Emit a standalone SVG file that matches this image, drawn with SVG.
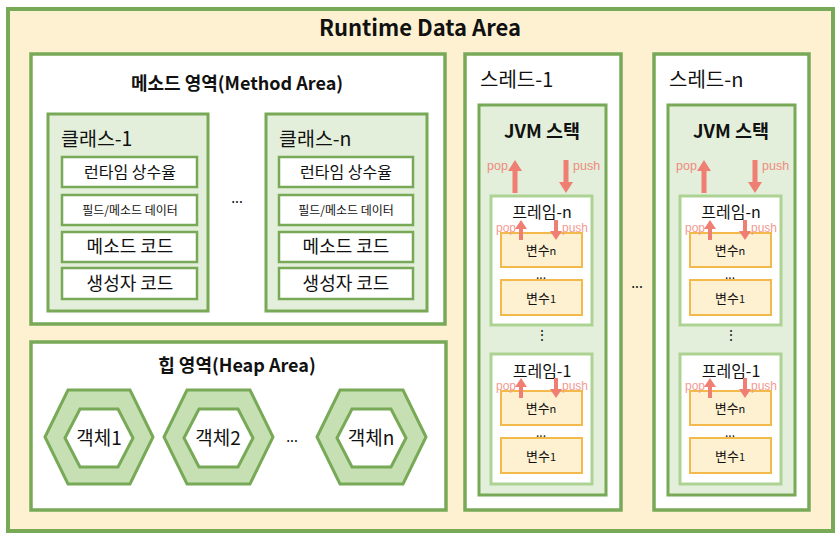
<svg xmlns="http://www.w3.org/2000/svg" width="840" height="540" viewBox="0 0 840 540">
<defs>
<style>
text{font-family:"Noto Sans CJK KR","Liberation Sans",sans-serif;fill:#111;}
.b{font-weight:bold;}
.m{text-anchor:middle;}
.outer{fill:#fdf1d1;stroke:#77a957;stroke-width:4;}
.area{fill:#fff;stroke:#77a957;stroke-width:3.5;}
.cls{fill:#e3efda;stroke:#77a957;stroke-width:3;}
.item{fill:#fff;stroke:#77a957;stroke-width:2.5;}
.hexo{fill:#c6e0b4;stroke:#77a957;stroke-width:3;}
.hexi{fill:#fff;stroke:#77a957;stroke-width:3;}
.frame{fill:#fff;stroke:#add394;stroke-width:3;}
.var{fill:#fdf1d1;stroke:#f3b94a;stroke-width:2;}
.arr{fill:#ef7f72;}
.lbl{fill:#ef8a80;font-size:12.5px;font-family:"Liberation Sans",sans-serif;}
.lbl2{fill:#f29b92;font-size:12px;font-family:"Liberation Sans",sans-serif;}
</style>
<polygon id="bigUp" points="0,0 7,11 2.5,11 2.5,33 -2.5,33 -2.5,11 -7,11"/>
<polygon id="bigDown" points="0,0 7,-11 2.5,-11 2.5,-33 -2.5,-33 -2.5,-11 -7,-11"/>
<polygon id="smUp" points="0,0 6,9 2,9 2,20 -2,20 -2,9 -6,9"/>
<polygon id="smDown" points="0,0 6,-9 2,-9 2,-20 -2,-20 -2,-9 -6,-9"/>
</defs>

<g id="runtime-data-area">
<rect class="outer" x="8" y="9" width="825" height="522"/>
<text class="b m" x="420" y="36" font-size="22">Runtime Data Area</text>
</g>

<g id="method-area">
<rect class="area" x="31" y="54" width="414" height="270"/>
<text class="b m" x="237" y="90" font-size="18">메소드 영역(Method Area)</text>
<text class="m" x="237" y="203" font-size="14">...</text>
</g>

<g id="class-1">
<rect class="cls" x="48" y="114" width="160" height="197"/>
<text x="61" y="146" font-size="19.5">클래스-1</text>
<rect class="item" x="62" y="157" width="135" height="30"/>
<text class="m" x="130" y="178" font-size="16">런타임 상수율</text>
<rect class="item" x="62" y="195" width="135" height="30"/>
<text class="m" x="130" y="215" font-size="12">필드/메소드 데이터</text>
<rect class="item" x="62" y="232" width="135" height="30"/>
<text class="m" x="130" y="253" font-size="18">메소드 코드</text>
<rect class="item" x="62" y="268" width="135" height="31"/>
<text class="m" x="130" y="290" font-size="18">생성자 코드</text>
</g>

<g id="class-n">
<rect class="cls" x="266" y="114" width="161" height="197"/>
<text x="279" y="146" font-size="19.5">클래스-n</text>
<rect class="item" x="279" y="157" width="134" height="30"/>
<text class="m" x="346" y="178" font-size="16">런타임 상수율</text>
<rect class="item" x="279" y="195" width="134" height="30"/>
<text class="m" x="346" y="215" font-size="12">필드/메소드 데이터</text>
<rect class="item" x="279" y="232" width="134" height="30"/>
<text class="m" x="346" y="253" font-size="18">메소드 코드</text>
<rect class="item" x="279" y="268" width="134" height="31"/>
<text class="m" x="346" y="290" font-size="18">생성자 코드</text>
</g>

<g id="heap-area">
<rect class="area" x="31" y="342" width="415" height="168"/>
<text class="b m" x="237" y="372" font-size="18">힙 영역(Heap Area)</text>
<text class="m" x="292" y="442" font-size="14">...</text>
</g>

<g id="object-1">
<polygon class="hexo" points="45,437 68,390 130,390 153,437 130,484 68,484"/>
<polygon class="hexi" points="65,438 80,409 118,409 133,438 118,467 80,467"/>
<text class="m" x="99" y="445" font-size="19">객체1</text>
</g>
<g id="object-2">
<polygon class="hexo" points="164,437 187,390 250,390 273,437 250,484 187,484"/>
<polygon class="hexi" points="184,438 199,409 238,409 253,438 238,467 199,467"/>
<text class="m" x="218" y="445" font-size="19">객체2</text>
</g>
<g id="object-n">
<polygon class="hexo" points="317,437 340,390 403,390 426,437 403,484 340,484"/>
<polygon class="hexi" points="337,438 352,409 391,409 406,438 391,467 352,467"/>
<text class="m" x="371" y="445" font-size="19">객체n</text>
</g>

<g id="thread-1">
<rect class="area" x="465" y="54" width="156" height="456"/>
<text x="480" y="87" font-size="20">스레드-1</text>
<rect class="cls" x="479" y="105" width="127" height="390"/>
<text class="b m" x="542" y="138" font-size="18.5">JVM 스택</text>
<text class="lbl" x="487" y="170">pop</text>
<use href="#bigUp" class="arr" x="515" y="160"/>
<text class="lbl" x="573" y="170">push</text>
<use href="#bigDown" class="arr" x="566" y="193"/>
<text class="m" x="542" y="340" font-size="14">⋮</text>
</g>
<g id="thread-1-frame-n">
<rect class="frame" x="491" y="196" width="101" height="129"/>
<text class="m" x="542" y="218" font-size="16">프레임-n</text>
<rect class="var" x="501" y="233" width="81" height="34"/>
<text class="m" x="541" y="255" font-size="13">변수<tspan font-size="11">n</tspan></text>
<text class="m" x="541" y="279" font-size="12">...</text>
<rect class="var" x="501" y="280" width="81" height="35"/>
<text class="m" x="541" y="303" font-size="13">변수<tspan font-size="11">1</tspan></text>
<text class="lbl2" x="496" y="232">pop</text>
<use href="#smUp" class="arr" x="521" y="220"/>
<text class="lbl2" x="562" y="232">push</text>
<use href="#smDown" class="arr" x="556" y="240"/>
</g>
<g id="thread-1-frame-1">
<rect class="frame" x="491" y="354" width="101" height="130"/>
<text class="m" x="542" y="377" font-size="16">프레임-1</text>
<rect class="var" x="501" y="391" width="81" height="34"/>
<text class="m" x="541" y="413" font-size="13">변수<tspan font-size="11">n</tspan></text>
<text class="m" x="541" y="437" font-size="12">...</text>
<rect class="var" x="501" y="438" width="81" height="35"/>
<text class="m" x="541" y="461" font-size="13">변수<tspan font-size="11">1</tspan></text>
<text class="lbl2" x="496" y="390">pop</text>
<use href="#smUp" class="arr" x="521" y="378"/>
<text class="lbl2" x="562" y="390">push</text>
<use href="#smDown" class="arr" x="556" y="398"/>
</g>

<g id="threads-ellipsis"><text class="m" x="637" y="288" font-size="14">...</text></g>

<g id="thread-n">
<rect class="area" x="654" y="54" width="155" height="456"/>
<text x="669" y="87" font-size="20">스레드-n</text>
<rect class="cls" x="668" y="105" width="127" height="390"/>
<text class="b m" x="731" y="138" font-size="18.5">JVM 스택</text>
<text class="lbl" x="676" y="170">pop</text>
<use href="#bigUp" class="arr" x="704" y="160"/>
<text class="lbl" x="762" y="170">push</text>
<use href="#bigDown" class="arr" x="755" y="193"/>
<text class="m" x="731" y="340" font-size="14">⋮</text>
</g>
<g id="thread-n-frame-n">
<rect class="frame" x="680" y="196" width="101" height="129"/>
<text class="m" x="731" y="218" font-size="16">프레임-n</text>
<rect class="var" x="690" y="233" width="81" height="34"/>
<text class="m" x="730" y="255" font-size="13">변수<tspan font-size="11">n</tspan></text>
<text class="m" x="730" y="279" font-size="12">...</text>
<rect class="var" x="690" y="280" width="81" height="35"/>
<text class="m" x="730" y="303" font-size="13">변수<tspan font-size="11">1</tspan></text>
<text class="lbl2" x="685" y="232">pop</text>
<use href="#smUp" class="arr" x="710" y="220"/>
<text class="lbl2" x="751" y="232">push</text>
<use href="#smDown" class="arr" x="745" y="240"/>
</g>
<g id="thread-n-frame-1">
<rect class="frame" x="680" y="354" width="101" height="130"/>
<text class="m" x="731" y="377" font-size="16">프레임-1</text>
<rect class="var" x="690" y="391" width="81" height="34"/>
<text class="m" x="730" y="413" font-size="13">변수<tspan font-size="11">n</tspan></text>
<text class="m" x="730" y="437" font-size="12">...</text>
<rect class="var" x="690" y="438" width="81" height="35"/>
<text class="m" x="730" y="461" font-size="13">변수<tspan font-size="11">1</tspan></text>
<text class="lbl2" x="685" y="390">pop</text>
<use href="#smUp" class="arr" x="710" y="378"/>
<text class="lbl2" x="751" y="390">push</text>
<use href="#smDown" class="arr" x="745" y="398"/>
</g>

<g id="connectors"></g>
</svg>
